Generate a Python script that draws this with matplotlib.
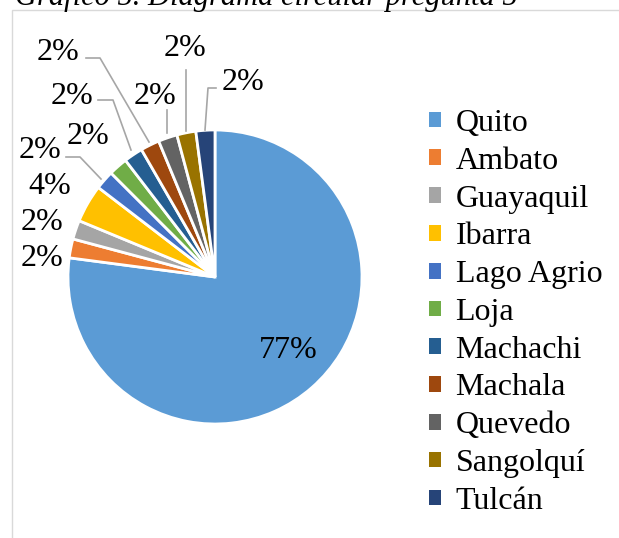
import matplotlib.pyplot as plt
from matplotlib.patches import Rectangle, Patch

plt.rcParams['font.family'] = ['Liberation Serif', 'DejaVu Serif']

# data: respondents per city
cities = ['Quito', 'Ambato', 'Guayaquil', 'Ibarra', 'Lago Agrio', 'Loja',
          'Machachi', 'Machala', 'Quevedo', 'Sangolquí', 'Tulcán']
counts = [37, 1, 1, 2, 1, 1, 1, 1, 1, 1, 1]
colors = ['#5B9BD5', '#ED7D31', '#A5A5A5', '#FFC000', '#4472C4', '#70AD47',
          '#255E91', '#9E480E', '#636363', '#997300', '#264478']
title = 'Gráfico 5. Diagrama circular pregunta 5'

W, H = 619, 538
fig = plt.figure(figsize=(W / 100, H / 100), dpi=100)
ax = fig.add_axes([0, 0, 1, 1])

def py(y):
    return H - y

explode = [0] + [0.04] * (len(counts) - 1)
wedges, _ = ax.pie(counts, colors=colors, startangle=90, counterclock=False,
                   center=(215, py(277)), radius=147, explode=explode,
                   wedgeprops=dict(edgecolor='white', linewidth=2))

# pie() resets the limits, so set them afterwards
ax.set_xlim(0, W)
ax.set_ylim(0, H)
ax.set_aspect('equal')
ax.axis('off')

# chart frame
ax.add_patch(Rectangle((12, -20), 700, py(10) + 20, fill=False,
                       edgecolor='#D9D9D9', linewidth=1))
ax.text(15, py(5), title, fontsize=22, style='italic', va='baseline')

total = sum(counts)
pcts = ['%d%%' % round(100 * c / total) for c in counts]

# label positions (pixel) and leader line points (pixel), None for no line
label_pos = [(288, 350), (42, 258), (42, 222), (50, 187), (40, 150), (88, 137),
             (72, 97), (58, 52), (155, 97), (185, 48), (243, 82)]
leaders = [None, None, None, None,
           [(66, 157), (80, 157), (101, 179)],
           None,
           [(98, 100), (113, 100), (131, 150)],
           [(86, 58), (100, 58), (149, 142)],
           [(167, 110), (167, 133)],
           [(186, 70), (186, 131)],
           [(216, 88), (208, 88), (205, 130)]]

for p, (x, y), ln in zip(pcts, label_pos, leaders):
    ax.text(x, py(y), p, fontsize=23, ha='center', va='center')
    if ln:
        xs = [q[0] for q in ln]
        ys = [py(q[1]) for q in ln]
        ax.plot(xs, ys, color='#A6A6A6', linewidth=1.2)

handles = [Patch(facecolor=c, edgecolor='none') for c in colors]
ax.legend(handles, cities, loc='upper left', bbox_to_anchor=(429 / W, 1 - 109 / H),
          bbox_transform=fig.transFigure, frameon=False, fontsize=23,
          handlelength=0.38, handleheight=0.38, handletextpad=0.45,
          labelspacing=0.275, borderpad=0, borderaxespad=0)

fig.savefig('out.png', dpi=100)
